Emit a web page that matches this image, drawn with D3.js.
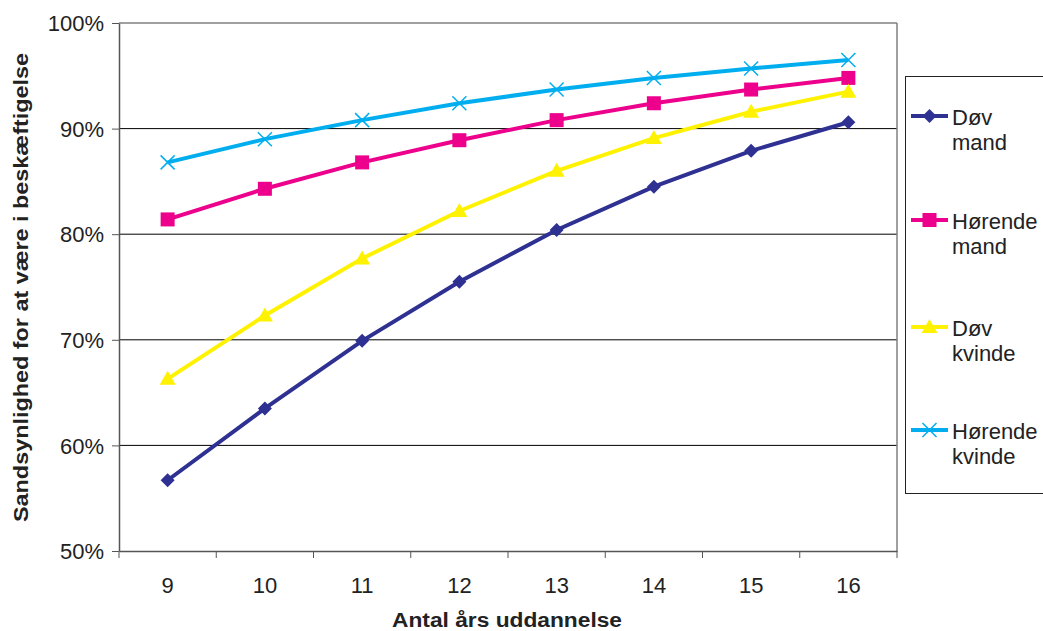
<!DOCTYPE html>
<html><head><meta charset="utf-8">
<script src="https://cdn.jsdelivr.net/npm/d3@7"></script>
<style>body{margin:0;background:#fff;}svg{display:block;font-family:"Liberation Sans",Arial,sans-serif;}</style>
</head><body><svg id="c" width="1043" height="631"></svg>
<script>
const categories = [9, 10, 11, 12, 13, 14, 15, 16];
const dovMand = [56.7, 63.5, 69.9, 75.5, 80.4, 84.5, 87.9, 90.6];
const horendeMand = [81.4, 84.3, 86.8, 88.9, 90.8, 92.4, 93.7, 94.8];
const dovKvinde = [66.3, 72.3, 77.7, 82.2, 86.0, 89.1, 91.6, 93.5];
const horendeKvinde = [86.8, 89.0, 90.8, 92.4, 93.7, 94.8, 95.7, 96.5];
const yTicks = [50, 60, 70, 80, 90, 100];
const seriesNames = [["Døv","mand"],["Hørende","mand"],["Døv","kvinde"],["Hørende","kvinde"]];
const seriesColors = ["#2E3192","#EC008C","#FFF200","#00AEEF"];
const seriesSymbols = ["diamond","square","triangle","x"];
const seriesValues = [dovMand, horendeMand, dovKvinde, horendeKvinde];

const svg = d3.select("#c");
const L = 119, R = 897, T = 23, B = 551;
const x = d3.scaleBand().domain(categories).range([L, R]);
const y = d3.scaleLinear().domain([50, 100]).range([B, T]);

// gridlines
svg.append("g").selectAll("line").data(yTicks.filter(d => d > 50 && d < 100)).join("line")
  .attr("x1", L).attr("x2", R).attr("y1", d => y(d)).attr("y2", d => y(d))
  .attr("stroke", "#000").attr("stroke-width", 1);
// plot border top/right gray
svg.append("line").attr("x1", L).attr("x2", R).attr("y1", T).attr("y2", T).attr("stroke", "#808080").attr("stroke-width", 1.5);
svg.append("line").attr("x1", R).attr("x2", R).attr("y1", T).attr("y2", B).attr("stroke", "#808080").attr("stroke-width", 1.5);

// y axis
const ya = svg.append("g").attr("transform", `translate(${L},0)`)
  .call(d3.axisLeft(y).tickValues(yTicks).tickFormat(d => d + "%").tickSize(7).tickSizeOuter(0));
ya.select(".domain").attr("stroke", "#555").attr("stroke-width", 1.5);
ya.selectAll(".tick line").attr("stroke", "#555");
ya.selectAll("text").attr("font-size", 22).attr("fill", "#222").attr("x", -15).attr("dy", "0.35em");

// x axis
const xa = svg.append("g").attr("transform", `translate(0,${B})`)
  .call(d3.axisBottom(x).tickSize(0).tickSizeOuter(0));
xa.select(".domain").attr("stroke", "#555").attr("stroke-width", 1.5);
xa.selectAll("text").attr("font-size", 22).attr("fill", "#222").attr("dy", null).attr("y", 42);
const bounds = categories.map(c => x(c)).concat([R]);
svg.append("g").selectAll("line").data(bounds).join("line")
  .attr("x1", d => d).attr("x2", d => d).attr("y1", B).attr("y2", B + 7)
  .attr("stroke", "#555").attr("stroke-width", 1);

// titles
svg.append("text").attr("x", 507).attr("y", 627).attr("text-anchor", "middle")
  .attr("font-size", 20).attr("font-weight", "bold").attr("fill", "#222")
  .attr("textLength", 230).attr("lengthAdjust", "spacingAndGlyphs").text("Antal års uddannelse");
svg.append("text").attr("transform", "translate(28,287.5) rotate(-90)").attr("text-anchor", "middle")
  .attr("font-size", 20).attr("font-weight", "bold").attr("fill", "#222")
  .attr("textLength", 469).attr("lengthAdjust", "spacingAndGlyphs").text("Sandsynlighed for at være i beskæftigelse");

const cx = c => x(c) + x.bandwidth() / 2;
const line = d3.line().x((d, i) => cx(categories[i])).y(d => y(d));

function drawSymbol(g, type, color, px, py) {
  if (type === "diamond") {
    g.append("path").attr("d", `M${px},${py-7}L${px+7},${py}L${px},${py+7}L${px-7},${py}Z`).attr("fill", color);
  } else if (type === "square") {
    g.append("rect").attr("x", px-7).attr("y", py-7).attr("width", 14).attr("height", 14).attr("fill", color);
  } else if (type === "triangle") {
    g.append("path").attr("d", `M${px},${py-8}L${px+8},${py+6}L${px-8},${py+6}Z`).attr("fill", color);
  } else {
    g.append("path").attr("d", `M${px-7},${py-7}L${px+7},${py+7}M${px+7},${py-7}L${px-7},${py+7}`)
      .attr("stroke", color).attr("stroke-width", 1.5).attr("fill", "none");
  }
}

seriesValues.forEach((vals, si) => {
  const g = svg.append("g");
  g.append("path").attr("d", line(vals)).attr("fill", "none").attr("stroke", seriesColors[si]).attr("stroke-width", 4);
  vals.forEach((v, i) => drawSymbol(g, seriesSymbols[si], seriesColors[si], cx(categories[i]), y(v)));
});

// legend
svg.append("rect").attr("x", 905.5).attr("y", 76.5).attr("width", 150).attr("height", 417)
  .attr("fill", "#fff").attr("stroke", "#222").attr("stroke-width", 1);
const legY = [116, 220, 327, 430];
seriesNames.forEach((nm, si) => {
  const g = svg.append("g");
  const ly = legY[si];
  g.append("line").attr("x1", 911).attr("x2", 948).attr("y1", ly).attr("y2", ly)
    .attr("stroke", seriesColors[si]).attr("stroke-width", 4);
  drawSymbol(g, seriesSymbols[si], seriesColors[si], 929.5, ly);
  g.append("text").attr("x", 952).attr("y", ly + 9).attr("font-size", 22).attr("fill", "#222").text(nm[0]);
  g.append("text").attr("x", 952).attr("y", ly + 34).attr("font-size", 22).attr("fill", "#222").text(nm[1]);
});
</script></body></html>
